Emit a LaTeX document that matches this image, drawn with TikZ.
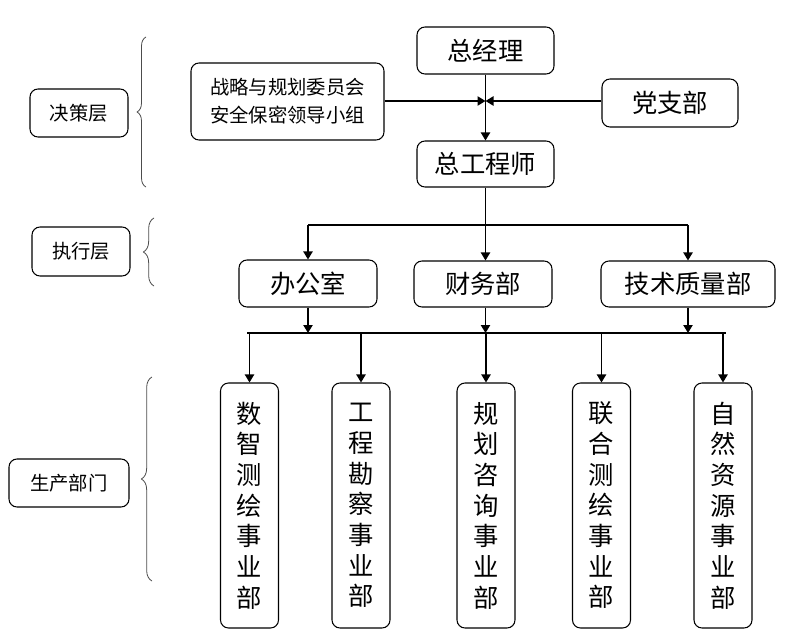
\documentclass[tikz,border=0pt]{standalone}
\usepackage{fontspec}
\newfontfamily\cjk{Noto Sans CJK SC}
\usetikzlibrary{arrows.meta,decorations.pathreplacing}

\begin{document}
\begin{tikzpicture}[x=0.75pt,y=-0.75pt,font=\cjk,line join=round,
	box/.style={draw,rounded corners=6pt,line width=0.8pt,inner sep=0pt,align=center},
	big/.style={font=\cjk\fontsize{19}{23}\selectfont},
	small/.style={font=\cjk\fontsize{14.5}{21}\selectfont},
	arr/.style={line width=0.9pt,-{Triangle[length=6pt,width=7pt]}},
	bar/.style={line width=1.6pt},
	brc/.style={draw=black!70,line width=0.6pt,decorate,decoration={brace,amplitude=#1}}]
	\useasboundingbox (0,0) rectangle (793,635);
	% decision layer
	\node[box,big,minimum width=102.75pt,minimum height=35.25pt] (gm) at (485.5,50.5) {总经理};
	\node[box,big,minimum width=102.75pt,minimum height=34.5pt] (ce) at (485.5,164) {总工程师};
	\node[box,small,minimum width=144.75pt,minimum height=57.75pt,align=left] (zl) at (287.5,101.5) {战略与规划委员会\\安全保密领导小组};
	\node[box,big,minimum width=102pt,minimum height=36pt] (dz) at (670,103) {党支部};
	\path (gm.south |- 0,101) coordinate (mid);
	\draw[line width=0.9pt] (gm.south) -- (mid);
	\draw[arr] (mid) -- (ce.north);
	\draw[arr] (zl.east |- mid) -- (mid);
	\draw[arr] (dz.west |- mid) -- (mid);
	% executive layer
	\node[box,big,minimum width=103.5pt,minimum height=35.25pt] (bg) at (308,283.5) {办公室};
	\node[box,big,minimum width=103.5pt,minimum height=34.5pt] (cw) at (483,284) {财务部};
	\node[box,big,minimum width=130.5pt,minimum height=34.5pt] (js) at (688,284) {技术质量部};
	\path (0,225) coordinate (b1) (247,333) coordinate (b2l) (726,333) coordinate (b2r);
	\draw[bar] (bg.north |- b1) -- (js.north |- b1);
	\draw[arr] (ce.south) -- (ce.south |- cw.north);
	\draw[arr] (bg.north |- b1) -- (bg.north);
	\draw[arr] (js.north |- b1) -- (js.north);
	\foreach \x in {bg,js}
	\draw[arr] (\x.south) -- (\x.south |- b2l);
	\draw[arr] (ce.south |- cw.south) -- (ce.south |- b2l);
	\draw[bar] (b2l) -- (b2r);
	% production departments
	\foreach \n/\x/\t in {p1/249.5/{数\\智\\测\\绘\\事\\业\\部},p2/361/{工\\程\\勘\\察\\事\\业\\部},p3/486/{规\\划\\咨\\询\\事\\业\\部},p4/601.5/{联\\合\\测\\绘\\事\\业\\部},p5/723/{自\\然\\资\\源\\事\\业\\部}}{
		\node[box,big,minimum width=43.5pt,minimum height=183.75pt] (\n) at (\x,505.5) {\t};
		\draw[arr] (\n.north |- b2l) -- (\n.north);
	}
	% layer labels
	\node[box,small,minimum width=73.5pt,minimum height=36pt] (jc) at (79,113) {决策层};
	\node[box,small,minimum width=73.5pt,minimum height=36.75pt] (zx) at (81,251.5) {执行层};
	\node[box,small,minimum width=90pt,minimum height=36pt] (sc) at (69,483) {生产部门};
	\draw[brc=6.75pt] (146,187) -- (146,37);
	\draw[brc=8pt] (154,286) -- (154,218);
	\draw[brc=8pt] (152,581) -- (152,377);
\end{tikzpicture}
\end{document}
